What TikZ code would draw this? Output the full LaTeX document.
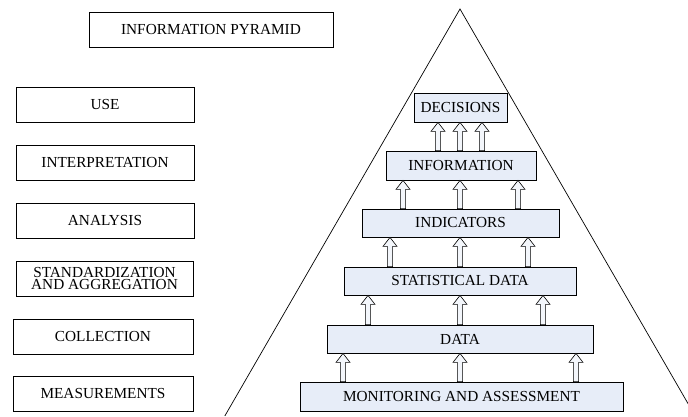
\documentclass[tikz,border=0pt]{standalone}
\usepackage{fontspec}
\setmainfont{Liberation Serif}
\usetikzlibrary{calc,shadows}
\definecolor{levelfill}{RGB}{231,237,248}
\tikzset{
  txt/.style={font=\fontsize{15.3}{12.5}\selectfont},
  stagebox/.style={txt, draw, line width=0.8pt, fill=white, inner sep=0pt, align=center},
  levelbox/.style={txt, draw, line width=0.8pt, fill=levelfill, inner sep=0pt,
    general shadow={shadow xshift=1.2pt, shadow yshift=-1.2pt, fill=black!55}},
  uparrow/.style={draw, line width=0.6pt, fill=levelfill!50}
}
% hollow block arrow from the top of one level to the bottom of the next
\newcommand{\levelarrow}[3]{% lower node, upper node, x position
  \path (#1.north -| {(#3,0)}) coordinate (ab) (#2.south -| {(#3,0)}) coordinate (at);
  \draw[uparrow] ($(ab)+(-2.6,0)$) -- ($(at)+(-2.6,9)$) -- ($(at)+(-7,9)$) -- (at)
    -- ($(at)+(7,9)$) -- ($(at)+(2.6,9)$) -- ($(ab)+(2.6,0)$) -- cycle;
}
\begin{document}
\begin{tikzpicture}[x=1pt,y=-1pt]
\useasboundingbox (0,0) rectangle (688,416);

% pyramid outline
\begin{scope}
  \clip (0,0) rectangle (688,416);
  \coordinate (apex) at (460,9);
  \draw[line width=0.7pt] (224.8,416) -- (apex) -- (695.2,416);
\end{scope}

% title and stages
\node[stagebox, minimum width=244, minimum height=35] (title) at (211,29.5) {INFORMATION PYRAMID};
\node[stagebox, minimum width=178, minimum height=35] (use) at (105,104.5) {USE};
\node[stagebox, minimum width=178, minimum height=35] (interp) at (105,162.5) {INTERPRETATION};
\node[stagebox, minimum width=178, minimum height=35] (analysis) at (105,220.5) {ANALYSIS};
\node[stagebox, minimum width=177, minimum height=35] (stand) at (104.5,278.5) {STANDARDIZATION\\AND AGGREGATION};
\node[stagebox, minimum width=180, minimum height=35] (collect) at (103,336.5) {COLLECTION};
\node[stagebox, minimum width=180, minimum height=35] (measure) at (103,393.5) {MEASUREMENTS};

% levels of the pyramid
\node[levelbox, minimum width=93, minimum height=29] (dec) at (460.5,107.5) {DECISIONS};
\node[levelbox, minimum width=150, minimum height=29] (info) at (461,165.5) {INFORMATION};
\node[levelbox, minimum width=197, minimum height=28] (ind) at (460.5,223) {INDICATORS};
\node[levelbox, minimum width=232, minimum height=28] (stat) at (460,281) {STATISTICAL DATA};
\node[levelbox, minimum width=266, minimum height=28] (data) at (460,339) {DATA};
\node[levelbox, minimum width=323, minimum height=29] (mon) at (461.5,396.5) {MONITORING AND ASSESSMENT};

% arrows between levels
\foreach \x in {343,460,576} {\levelarrow{mon}{data}{\x}}
\foreach \x in {368,460,543} {\levelarrow{data}{stat}{\x}}
\foreach \x in {390,460,528} {\levelarrow{stat}{ind}{\x}}
\foreach \x in {403,460,518} {\levelarrow{ind}{info}{\x}}
\foreach \x in {438,460,482} {\levelarrow{info}{dec}{\x}}
\end{tikzpicture}
\end{document}
